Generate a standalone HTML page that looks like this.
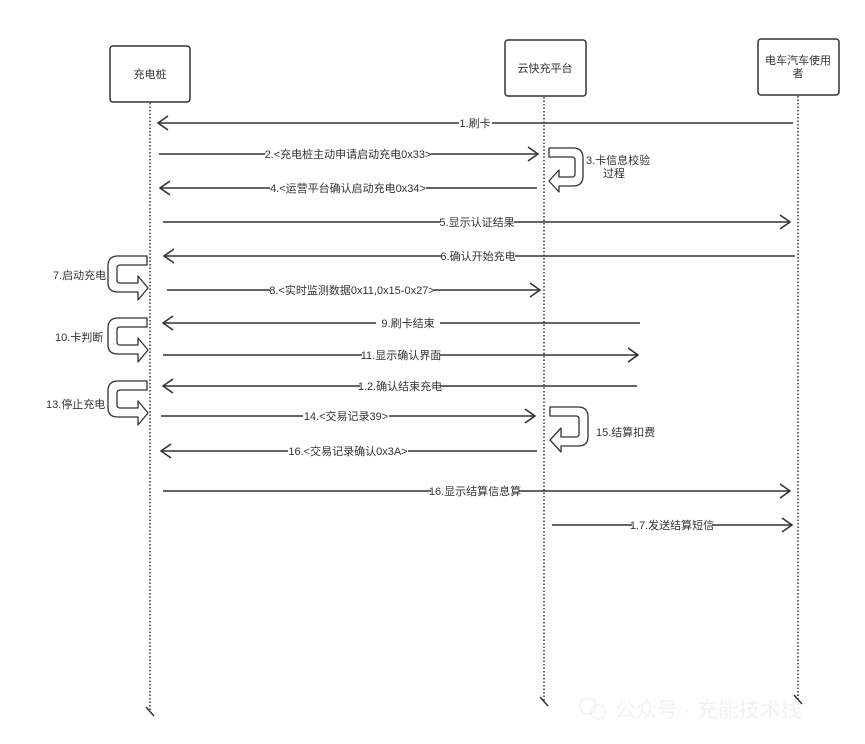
<!DOCTYPE html>
<html><head><meta charset="utf-8">
<style>
html,body{margin:0;padding:0;background:#fff;}
svg{display:block;font-family:"Liberation Sans","Noto Sans CJK SC",sans-serif;}
.t{font-size:11px;fill:#333;}
</style></head><body>
<svg width="865" height="744" viewBox="0 0 865 744" xmlns="http://www.w3.org/2000/svg">
<defs>
<marker id="a" viewBox="0 0 12 16" refX="11" refY="8" markerWidth="12" markerHeight="16" markerUnits="userSpaceOnUse" orient="auto">
<path d="M1,1 L11,8 L1,15" fill="none" stroke="#333" stroke-width="1.6"/>
</marker>
</defs>
<!-- boxes -->
<g fill="#fff" stroke="#333" stroke-width="1.5">
<rect x="110" y="46" width="80" height="56" rx="3"/>
<rect x="505" y="40" width="81" height="56" rx="3"/>
<rect x="758" y="39" width="81" height="56" rx="3"/>
</g>
<text class="t" x="150" y="78" text-anchor="middle">充电桩</text>
<text class="t" x="545" y="72" text-anchor="middle">云快充平台</text>
<text class="t" x="798" y="64" text-anchor="middle">电车汽车使用</text>
<text class="t" x="798" y="77" text-anchor="middle">者</text>
<!-- lifelines -->
<g stroke="#333" stroke-width="1.5" stroke-dasharray="1.5,2">
<line x1="150" y1="103" x2="150" y2="712"/>
<line x1="544" y1="97" x2="544" y2="702"/>
<line x1="798" y1="96" x2="798" y2="700"/>
</g>
<g stroke="#333" stroke-width="1.5">
<line x1="146" y1="707" x2="154" y2="716"/>
<line x1="540" y1="697" x2="548" y2="706"/>
<line x1="794" y1="695" x2="802" y2="704"/>
</g>
<!-- messages -->
<g stroke="#333" stroke-width="1.5" fill="none" marker-end="url(#a)">
<line x1="793" y1="123" x2="158" y2="123"/>
<line x1="159" y1="154" x2="538" y2="154"/>
<line x1="537" y1="188" x2="160" y2="188"/>
<line x1="163" y1="222" x2="790" y2="222"/>
<line x1="795" y1="256" x2="164" y2="256"/>
<line x1="167" y1="290" x2="540" y2="290"/>
<line x1="640" y1="323" x2="163" y2="323"/>
<line x1="163" y1="355" x2="638" y2="355"/>
<line x1="637" y1="386" x2="163" y2="386"/>
<line x1="161" y1="416" x2="535" y2="416"/>
<line x1="537" y1="451" x2="161" y2="451"/>
<line x1="163" y1="491" x2="790" y2="491"/>
<line x1="552" y1="525" x2="792" y2="525"/>
</g>
<!-- labels -->
<g class="t" text-anchor="middle">
<g font-size="11">
</g>
</g>
<g font-size="11" fill="#333" text-anchor="middle">
<g>
<rect x="459" y="116" width="33" height="14" fill="#fff"/><text x="475" y="127">1.刷卡</text>
<rect x="265" y="147" width="166" height="14" fill="#fff"/><text x="348" y="158">2.&lt;充电桩主动申请启动充电0x33&gt;</text>
<rect x="270" y="181" width="156" height="14" fill="#fff"/><text x="348" y="192">4.&lt;运营平台确认启动充电0x34&gt;</text>
<rect x="440" y="215" width="74" height="14" fill="#fff"/><text x="477" y="226">5.显示认证结果</text>
<rect x="441" y="249" width="74" height="14" fill="#fff"/><text x="478" y="260">6.确认开始充电</text>
<rect x="270" y="283" width="164" height="14" fill="#fff"/><text x="352" y="294">8.&lt;实时监测数据0x11,0x15-0x27&gt;</text>
<rect x="376" y="316" width="64" height="14" fill="#fff"/><text x="408" y="327">9.刷卡结束</text>
<rect x="362" y="348" width="78" height="14" fill="#fff"/><text x="401" y="359">11.显示确认界面</text>
<rect x="360" y="379" width="80" height="14" fill="#fff"/><text x="400" y="390">1.2.确认结束充电</text>
<rect x="303" y="409" width="86" height="14" fill="#fff"/><text x="346" y="420">14.&lt;交易记录39&gt;</text>
<rect x="288" y="444" width="120" height="14" fill="#fff"/><text x="348" y="455">16.&lt;交易记录确认0x3A&gt;</text>
<rect x="431" y="484" width="88" height="14" fill="#fff"/><text x="475" y="495">16.显示结算信息算</text>
<rect x="632" y="518" width="80" height="14" fill="#fff"/><text x="672" y="529">1.7.发送结算短信</text>
</g>
</g>
<!-- self loops -->
<g fill="#fff" stroke="#333" stroke-width="1.3" stroke-linejoin="round">
<path id="L" d="M147,256 L118,256 Q108,256 108,266 L108,283 Q108,292 118,292 L138,292 L138,300 L148,288 L138,276 L138,283 L120,283 Q117,283 117,280 L117,268 Q117,265 120,265 L147,265 Z"/>
<path d="M147,318 L118,318 Q108,318 108,328 L108,345 Q108,354 118,354 L138,354 L138,362 L148,350 L138,338 L138,345 L120,345 Q117,345 117,342 L117,330 Q117,327 120,327 L147,327 Z"/>
<path d="M147,381 L118,381 Q108,381 108,391 L108,408 Q108,417 118,417 L138,417 L138,425 L148,413 L138,401 L138,408 L120,408 Q117,408 117,405 L117,393 Q117,390 120,390 L147,390 Z"/>
<path d="M549,148 L573,148 Q583,148 583,158 L583,176 Q583,186 573,186 L559,186 L559,192 L549,181 L559,170 L559,177 L572,177 Q575,177 575,174 L575,160 Q575,157 572,157 L549,157 Z"/>
<path d="M550,407 L578,407 Q588,407 588,417 L588,437 Q588,446 578,446 L561,446 L561,452 L550,440 L561,428 L561,437 L576,437 Q579,437 579,434 L579,419 Q579,416 576,416 L550,416 Z"/>
</g>
<g font-size="11" fill="#333">
<text x="53" y="279">7.启动充电</text>
<text x="55" y="341">10.卡判断</text>
<text x="46" y="408">13.停止充电</text>
<text x="586" y="164">3.卡信息校验</text>
<text x="603" y="177">过程</text>
<text x="596" y="436">15.结算扣费</text>
</g>
<!-- watermark -->
<g opacity="0.5">
<circle cx="588" cy="706" r="8" fill="none" stroke="#ddd" stroke-width="1.2"/>
<circle cx="598" cy="712" r="7" fill="none" stroke="#ddd" stroke-width="1.2"/>
<text x="615" y="717" font-size="21" fill="#e6e6e6">公众号 · 充能技术栈</text>
</g>
</svg>
</body></html>
